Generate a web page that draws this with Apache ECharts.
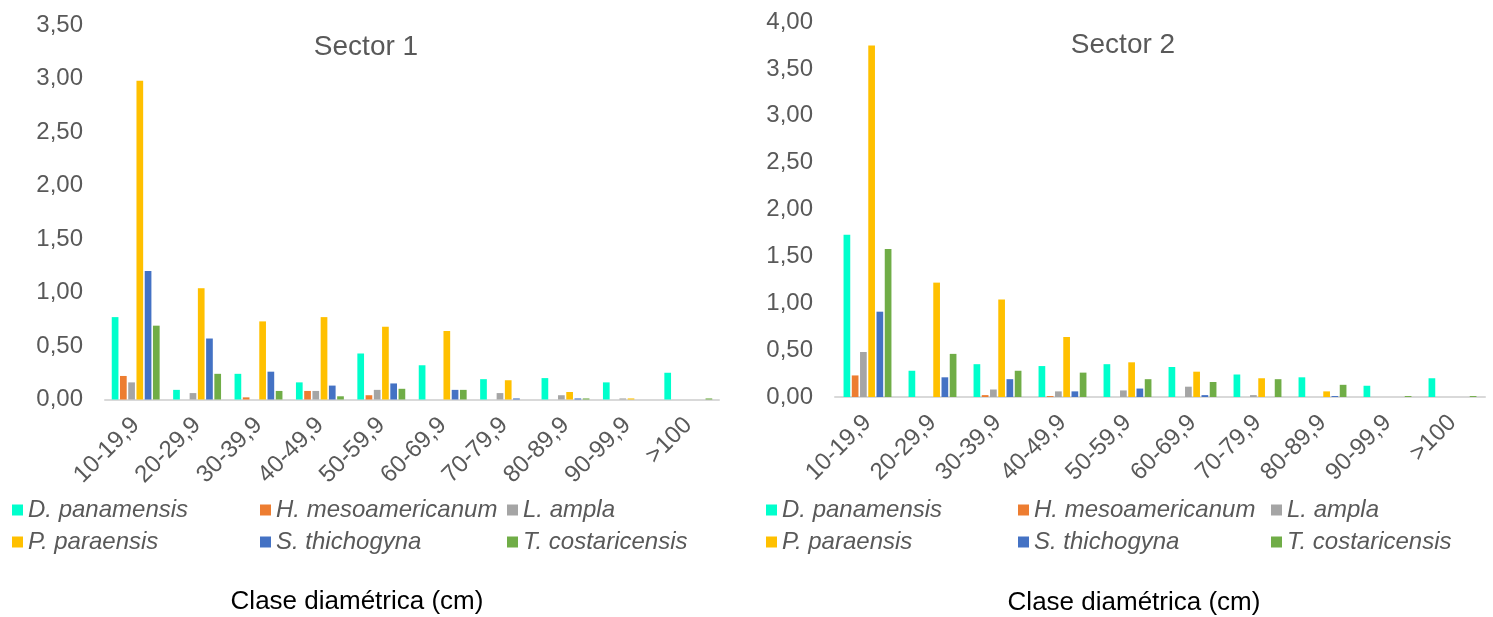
<!DOCTYPE html>
<html>
<head>
<meta charset="utf-8">
<script src="https://cdn.jsdelivr.net/npm/echarts@6/dist/echarts.min.js"></script>
<style>
  html, body { margin: 0; padding: 0; background: #ffffff; }
  #chart { width: 1493px; height: 617px; }
</style>
</head>
<body>
<div id="chart"></div>
<script>
// Diameter classes (cm)
const categories = ['10-19,9', '20-29,9', '30-39,9', '40-49,9', '50-59,9',
                    '60-69,9', '70-79,9', '80-89,9', '90-99,9', '>100'];

const speciesNames = ['D. panamensis', 'H. mesoamericanum', 'L. ampla',
                      'P. paraensis', 'S. thichogyna', 'T. costaricensis'];

// Sector 1 values per species
const sector1Dpan = [0.77, 0.09, 0.24, 0.16, 0.43, 0.32, 0.19, 0.20, 0.16, 0.25];
const sector1Hmes = [0.22, 0.00, 0.02, 0.08, 0.04, 0.00, 0.00, 0.00, 0.00, 0.00];
const sector1Lamp = [0.16, 0.06, 0.00, 0.08, 0.09, 0.00, 0.06, 0.04, 0.01, 0.00];
const sector1Ppar = [2.98, 1.04, 0.73, 0.77, 0.68, 0.64, 0.18, 0.07, 0.01, 0.00];
const sector1Sthi = [1.20, 0.57, 0.26, 0.13, 0.15, 0.09, 0.01, 0.01, 0.00, 0.00];
const sector1Tcos = [0.69, 0.24, 0.08, 0.03, 0.10, 0.09, 0.00, 0.01, 0.00, 0.01];

// Sector 2 values per species
const sector2Dpan = [1.73, 0.28, 0.35, 0.33, 0.35, 0.32, 0.24, 0.21, 0.12, 0.20];
const sector2Hmes = [0.23, 0.00, 0.02, 0.01, 0.00, 0.00, 0.00, 0.00, 0.00, 0.00];
const sector2Lamp = [0.48, 0.00, 0.08, 0.06, 0.07, 0.11, 0.02, 0.00, 0.00, 0.00];
const sector2Ppar = [3.75, 1.22, 1.04, 0.64, 0.37, 0.27, 0.20, 0.06, 0.00, 0.00];
const sector2Sthi = [0.91, 0.21, 0.19, 0.06, 0.09, 0.02, 0.00, 0.01, 0.00, 0.00];
const sector2Tcos = [1.58, 0.46, 0.28, 0.26, 0.19, 0.16, 0.19, 0.13, 0.01, 0.01];

const sector1Values = [sector1Dpan, sector1Hmes, sector1Lamp, sector1Ppar, sector1Sthi, sector1Tcos];
const sector2Values = [sector2Dpan, sector2Hmes, sector2Lamp, sector2Ppar, sector2Sthi, sector2Tcos];

const chartTitles = ['Sector 1', 'Sector 2'];
const axisTitle = 'Clase diamétrica (cm)';

const speciesColors = ['#00FFCC', '#ED7D31', '#A5A5A5', '#FFC000', '#4472C4', '#70AD47'];
const FONT = 'Arial, "Liberation Sans", sans-serif';
const GREY_TEXT = '#595959';

const fmt = v => v.toFixed(2).replace('.', ',');

function xAxisFor(gridIndex) {
  return {
    type: 'category',
    gridIndex: gridIndex,
    data: categories,
    axisLine: { lineStyle: { color: '#d9d9d9', width: 2 } },
    axisTick: { show: false },
    axisLabel: {
      interval: 0, rotate: 45, margin: 22,
      fontSize: 24, color: GREY_TEXT, fontFamily: FONT
    }
  };
}

function yAxisFor(gridIndex, max) {
  return {
    type: 'value',
    gridIndex: gridIndex,
    min: 0, max: max, interval: 0.5,
    axisLine: { show: false },
    axisTick: { show: false },
    splitLine: { show: false },
    axisLabel: {
      margin: 22, fontSize: 24, color: GREY_TEXT, fontFamily: FONT,
      formatter: fmt
    }
  };
}

const series = [];
[sector1Values, sector2Values].forEach((set, g) => {
  set.forEach((vals, i) => {
    series.push({
      type: 'bar',
      name: speciesNames[i],
      xAxisIndex: g, yAxisIndex: g,
      data: vals,
      barWidth: 6.7,
      barGap: '23%',
      itemStyle: { color: speciesColors[i] },
      emphasis: { disabled: true },
      animation: false
    });
  });
});

// Legends: one entry per species, laid out as three columns by two rows under each panel
const legendColumns = [[12, 260, 507], [766, 1018, 1271]];
const legendRows = [498, 530];
const legends = [];
legendColumns.forEach(cols => {
  speciesNames.forEach((name, i) => {
    legends.push({
      data: [name],
      left: cols[i % 3],
      top: legendRows[Math.floor(i / 3)],
      padding: 0,
      itemWidth: 11, itemHeight: 11,
      icon: 'rect',
      textStyle: { fontSize: 24, fontStyle: 'italic', color: GREY_TEXT, fontFamily: FONT }
    });
  });
});

function label(text, x, y, size, color) {
  return {
    type: 'text', x: x, y: y, silent: true,
    style: {
      text: text, fill: color, fontSize: size, fontFamily: FONT,
      textAlign: 'center', textVerticalAlign: 'middle',
      align: 'center', verticalAlign: 'middle'
    }
  };
}

const option = {
  backgroundColor: '#ffffff',
  animation: false,
  grid: [
    { left: 105, top: 25, width: 614, height: 374.5 },
    { left: 835, top: 22, width: 650, height: 375 }
  ],
  xAxis: [xAxisFor(0), xAxisFor(1)],
  yAxis: [yAxisFor(0, 3.5), yAxisFor(1, 4)],
  legend: legends,
  graphic: [
    label(chartTitles[0], 366, 47, 28, GREY_TEXT),
    label(chartTitles[1], 1123, 45, 28, GREY_TEXT),
    label(axisTitle, 357, 602, 26, '#000000'),
    label(axisTitle, 1134, 603, 26, '#000000')
  ],
  series: series
};

const chart = echarts.init(document.getElementById('chart'));
chart.setOption(option);
</script>
</body>
</html>
